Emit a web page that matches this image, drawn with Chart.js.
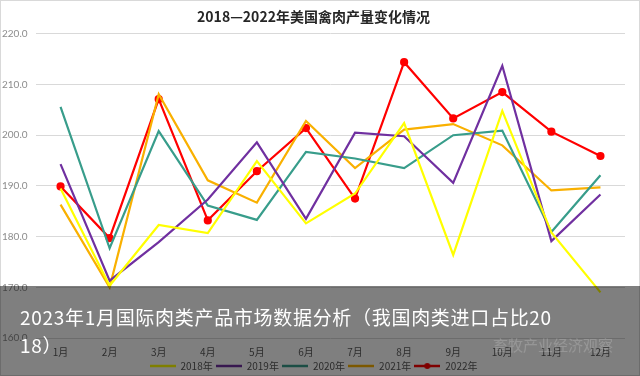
<!DOCTYPE html>
<html>
<head>
<meta charset="utf-8">
<script src="https://cdn.jsdelivr.net/npm/chart.js@4/dist/chart.umd.min.js"></script>
<style>
  html, body { margin: 0; padding: 0; background: #fff; }
  #wrap { position: relative; width: 640px; height: 376px; overflow: hidden; }
  #frame { position: absolute; left: 0; top: 0; width: 640px; height: 376px; box-sizing: border-box; border: 1px solid #d9d9d9; pointer-events: none; }
  #band { position: absolute; left: 0; top: 286px; width: 640px; height: 90px; background: rgba(0, 0, 0, 0.5); }
  #caption { position: absolute; left: 20px; top: 303px; width: 535px; color: #fff; font: 19px "Noto Sans CJK SC", sans-serif; line-height: 28px; letter-spacing: 0.7px; word-break: break-all; }
  #mark { position: absolute; left: 493px; top: 334px; color: rgba(255, 255, 255, 0.18); font: 15px "Noto Sans CJK SC", sans-serif; }
</style>
</head>
<body>
<div id="wrap">
  <canvas id="meatChart" width="640" height="376"></canvas>
  <div id="frame"></div>
  <div id="band"></div>
  <div id="caption">2023年1月国际肉类产品市场数据分析（我国肉类进口占比2018）</div>
  <div id="mark">畜牧产业经济观察</div>
</div>
<script>
// months on the x axis
const months = ['1月', '2月', '3月', '4月', '5月', '6月', '7月', '8月', '9月', '10月', '11月', '12月']

// poultry output per month, one array per year
const output_2018 = [189.5, 170.3, 182.3, 180.7, 194.9, 182.6, 188.5, 202.4, 176.4, 204.8, 180.8, 169.0]
const output_2019 = [194.3, 171.3, 178.9, 187.3, 198.6, 183.5, 200.5, 199.8, 190.6, 213.7, 179.1, 188.3]
const output_2020 = [205.6, 177.7, 200.8, 186.1, 183.3, 196.7, 195.4, 193.5, 200.0, 200.9, 180.9, 192.1]
const output_2021 = [186.3, 170.0, 208.1, 191.1, 186.7, 202.8, 193.5, 201.1, 202.2, 198.0, 189.1, 189.7]
const output_2022 = [189.9, 179.7, 207.1, 183.2, 192.9, 201.4, 187.5, 214.4, 203.3, 208.5, 200.7, 195.9]

const year_labels = ['2018年', '2019年', '2020年', '2021年', '2022年']
const y_ticks = [160, 170, 180, 190, 200, 210, 220]

const colors = ['#ffff00', '#7030a0', '#389d8b', '#f9b000', '#ff0000']

// small legend swatch: a line, with a dot for the series that has markers
function legendSwatch(color, withDot) {
  const c = document.createElement('canvas')
  c.width = 26
  c.height = 8
  const g = c.getContext('2d')
  g.strokeStyle = color
  g.lineWidth = 2.5
  g.beginPath()
  g.moveTo(0, 4)
  g.lineTo(26, 4)
  g.stroke()
  if (withDot) {
    g.fillStyle = color
    g.beginPath()
    g.arc(13, 4, 3, 0, Math.PI * 2)
    g.fill()
  }
  return c
}

function makeDataset(label, values, color, markers) {
  return {
    label: label,
    data: values,
    borderColor: color,
    backgroundColor: color,
    borderWidth: 2.2,
    pointRadius: markers ? 3 : 0,
    pointStyle: 'circle',
    tension: 0
  }
}

// keep the legend strip short so the plot reaches down to 160
const shortLegend = {
  id: 'shortLegend',
  afterInit(chart) {
    const lg = chart.legend
    if (lg) {
      const origFit = lg.fit
      lg.fit = function () {
        origFit.call(this)
        this.height = 18
      }
    }
  }
}

const ctx = document.getElementById('meatChart').getContext('2d');

new Chart(ctx, {type: 'line',
  data: {
    labels: months,
    datasets: [
      makeDataset(year_labels[0], output_2018, colors[0], false),
      makeDataset(year_labels[1], output_2019, colors[1], false),
      makeDataset(year_labels[2], output_2020, colors[2], false),
      makeDataset(year_labels[3], output_2021, colors[3], false),
      makeDataset(year_labels[4], output_2022, colors[4], true)
    ]
  },
  plugins: [shortLegend],
  options: {
    responsive: false,
    animation: false,
    layout: { padding: { left: 2, right: 15, top: 0, bottom: 0 } },
    plugins: {
      title: {
        display: true,
        text: '2018—2022年美国禽肉产量变化情况',
        color: '#262626',
        font: { family: '"Noto Sans CJK SC", sans-serif', size: 14, weight: 'bold' },
        padding: { top: 8, bottom: 9 }
      },
      legend: {
        position: 'bottom',
        labels: {
          color: '#595959',
          font: { family: '"Noto Sans CJK SC", sans-serif', size: 10 },
          usePointStyle: true,
          pointStyleWidth: 26,
          boxHeight: 8,
          padding: 3,
          generateLabels: (chart) => chart.data.datasets.map((ds, i) => ({
            text: ds.label,
            fontColor: '#595959',
            pointStyle: legendSwatch(colors[i], i === 4),
            strokeStyle: colors[i],
            fillStyle: colors[i],
            lineWidth: 0,
            datasetIndex: i
          }))
        }
      },
      tooltip: { enabled: false }
    },
    scales: {
      x: {
        type: 'category',
        offset: true,
        afterFit: (scale) => { scale.height = 20 },
        grid: { display: false, offset: true, drawTicks: false },
        border: { display: false },
        ticks: {
          color: '#595959',
          font: { family: '"Noto Sans CJK SC", sans-serif', size: 10 },
          padding: 8,
          maxRotation: 0
        }
      },
      y: {
        min: 160,
        max: 220,
        afterBuildTicks: (scale) => { scale.ticks = y_ticks.map(v => ({ value: v })) },
        afterFit: (scale) => { scale.width = 34 },
        grid: { color: '#d9d9d9', drawTicks: false, lineWidth: 1 },
        border: { display: false },
        ticks: {
          color: '#8c8c8c',
          font: { family: 'Lato, sans-serif', size: 10 },
          crossAlign: 'far',
          padding: 4,
          callback: (v) => Number(v).toFixed(1)
        }
      }
    }
  }
});
</script>
</body>
</html>
